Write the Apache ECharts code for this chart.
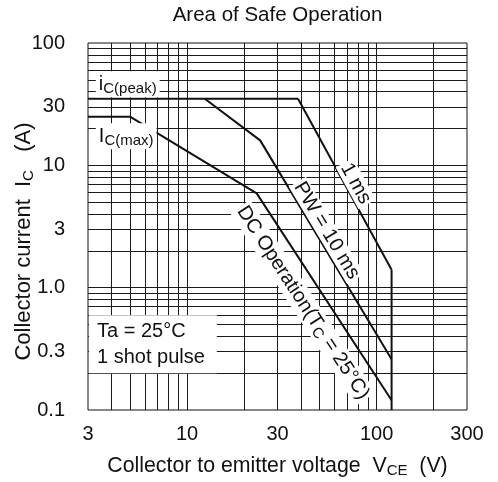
<!doctype html>
<html>
<head>
<meta charset="utf-8">
<title>Area of Safe Operation</title>
<script src="https://cdn.jsdelivr.net/npm/echarts@6/dist/echarts.min.js"></script>
<style>
  html, body { margin: 0; padding: 0; background: #fff; }
  #main { width: 498px; height: 482px; }
</style>
</head>
<body>
<div id="main"></div>
<script>
// curves (V, A)
var peakLine = [[3, 35], [38.5, 35]];
var oneMs = [[38.5, 35], [120, 1.4]];
var pw10ms = [[12.4, 35], [24.3, 16], [120, 0.26]];
var dcLine = [[3, 25], [5, 25], [23.3, 5.9], [120, 0.12]];
var vceoLine = [[120, 0.1], [120, 1.4]];

// axes
var xTicks = [3, 10, 30, 100, 300];
var xTickLabels = ['3', '10', '30', '100', '300'];
var yTicks = [0.1, 0.3, 1, 3, 10, 30, 100];
var yTickLabels = ['0.1', '0.3', '1.0', '3', '10', '30', '100'];
var xGrid = [4, 5, 6, 7, 8, 9, 10, 20, 30, 40, 50, 60, 70, 80, 90, 100, 200];
var yGrid = [0.2, 0.3, 0.4, 0.5, 0.6, 0.7, 0.8, 0.9, 1, 2, 3, 4, 5, 6, 7, 8, 9, 10,
  20, 30, 40, 50, 60, 70, 80, 90];

var FONT = '"Liberation Sans", Arial, Helvetica, sans-serif';
var INK = '#111';

var chart = echarts.init(document.getElementById('main'));

function curve(name, data) {
  return {
    name: name, type: 'line', data: data, showSymbol: false, symbol: 'none',
    silent: true, animation: false, z: 5,
    lineStyle: { color: INK, width: 2 }
  };
}

var gridMarks = xGrid.map(function (v) { return { xAxis: v }; })
  .concat(yGrid.map(function (v) { return { yAxis: v }; }));

chart.setOption({
  animation: false,
  grid: { left: 88, right: 31, top: 43, bottom: 72, show: true, borderColor: INK, borderWidth: 1 },
  xAxis: {
    type: 'log', logBase: 10, min: 3, max: 300,
    axisLabel: { show: false }, axisTick: { show: false },
    axisLine: { show: false }, splitLine: { show: false }
  },
  yAxis: {
    type: 'log', logBase: 10, min: 0.1, max: 100,
    axisLabel: { show: false }, axisTick: { show: false },
    axisLine: { show: false }, splitLine: { show: false }
  },
  series: [
    {
      name: 'grid', type: 'line', data: [], silent: true, z: 1,
      markLine: {
        silent: true, symbol: ['none', 'none'], label: { show: false },
        lineStyle: { color: '#1a1a1a', width: 1, type: 'solid' },
        emphasis: { disabled: true },
        data: gridMarks
      }
    },
    curve('peak', peakLine),
    curve('1 ms', oneMs),
    curve('PW = 10 ms', pw10ms),
    curve('DC', dcLine),
    curve('VCEO', vceoLine)
  ]
});

function px(p) { return chart.convertToPixel({ gridIndex: 0 }, p); }
function segAngle(a, b) {
  var p1 = px(a), p2 = px(b);
  return Math.atan2(p2[1] - p1[1], p2[0] - p1[0]);
}

var sub = { fontSize: 15, fontFamily: FONT, fill: INK, padding: [9, 0, 0, 0] };
var graphics = [];

function text(x, y, str, extra) {
  var st = {
    text: str, x: 0, y: 0, fill: INK, fontSize: 20, fontFamily: FONT,
    align: 'center', verticalAlign: 'middle', rich: { s: sub }
  };
  for (var k in extra) st[k] = extra[k];
  return { type: 'text', x: x, y: y, z: 100, silent: true, style: st };
}

// tick labels
xTicks.forEach(function (v, i) {
  var p = px([v, 0.1]);
  graphics.push(text(p[0], p[1] + 24, xTickLabels[i]));
});
yTicks.forEach(function (v, i) {
  var p = px([3, v]);
  graphics.push(text(p[0] - 23, p[1], yTickLabels[i], { align: 'right' }));
});

// title and axis names
var c0 = px([3, 0.1]), c1 = px([300, 100]);
var midX = (c0[0] + c1[0]) / 2, midY = (c0[1] + c1[1]) / 2;
graphics.push(text(midX, 15, 'Area of Safe Operation', { fontSize: 20.5 }));
graphics.push(text(midX, 466, 'Collector to emitter voltage  V{s|CE}  (V)', { fontSize: 21.3 }));
var yName = text(24, midY + 15, 'Collector current  I{s|C}   (A)', { fontSize: 22 });
yName.rotation = Math.PI / 2;
graphics.push(yName);

// curve captions
var pk = px([3.3, 46]);
graphics.push(text(pk[0], pk[1], 'i{s|C(peak)}', { align: 'left', backgroundColor: '#fff', padding: [1, 3, 1, 3] }));
var mx = px([3.3, 17.3]);
graphics.push(text(mx[0], mx[1], 'I{s|C(max)}', { align: 'left', backgroundColor: '#fff', padding: [1, 3, 1, 3] }));
var ta = px([3, 0.345]);
graphics.push(text(ta[0] + 1, ta[1], 'Ta = 25°C\n1 shot pulse', {
  align: 'left', lineHeight: 26, backgroundColor: '#fff', padding: [3, 12, 3, 8]
}));

var rot1 = segAngle(oneMs[0], oneMs[1]);
var p1 = px([77.7, 7.1]);
var t1 = text(p1[0], p1[1], '1 ms', { backgroundColor: '#fff', padding: [0, 2] });
t1.rotation = -rot1;
graphics.push(t1);

var rot2 = segAngle(pw10ms[1], pw10ms[2]);
var p2 = px([54.5, 2.93]);
var t2 = text(p2[0], p2[1], 'PW = 10 ms', { backgroundColor: '#fff', padding: [0, 2] });
t2.rotation = -rot2;
graphics.push(t2);

var rot3 = segAngle(dcLine[2], dcLine[3]);
var p3 = px([40.9, 0.753]);
var t3 = text(p3[0], p3[1], 'DC Operation(T{s|C} = 25°C)', { backgroundColor: '#fff', padding: [0, 2] });
t3.rotation = -rot3;
graphics.push(t3);

chart.setOption({ graphic: graphics });
</script>
</body>
</html>
